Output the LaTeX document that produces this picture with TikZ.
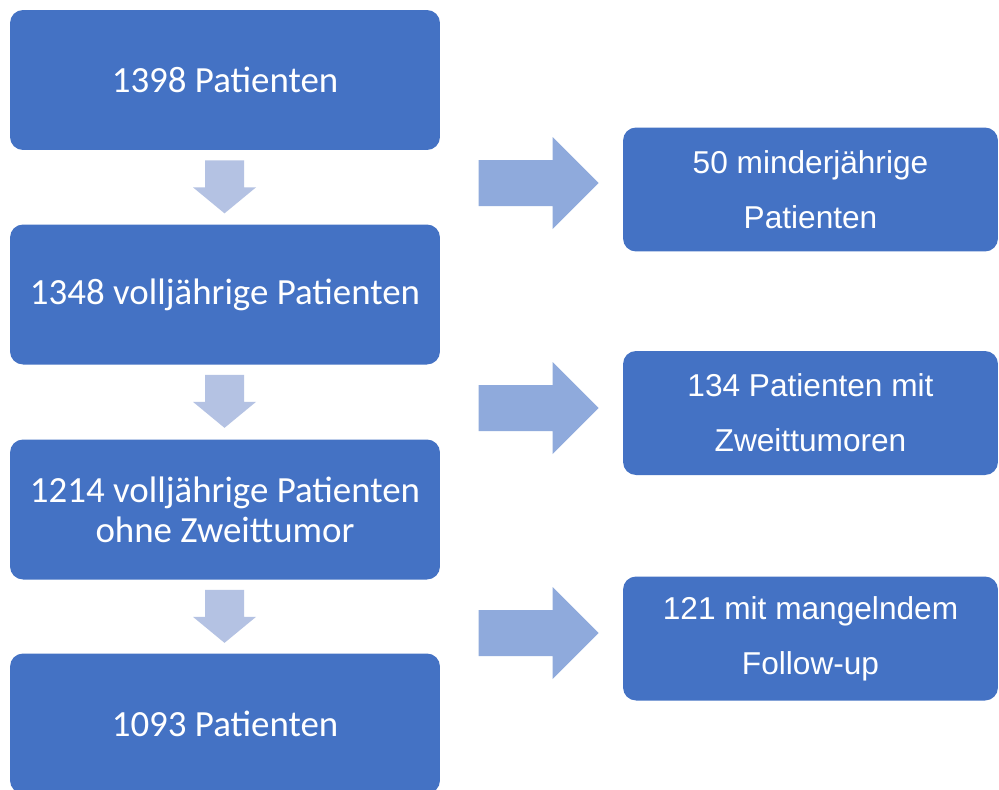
\documentclass[tikz,border=0pt]{standalone}
\usepackage{fontspec}
\setmainfont{Carlito}
\newfontfamily\sideFont{Liberation Sans}
\usetikzlibrary{positioning}

\definecolor{boxBlue}{HTML}{4472C4}
\definecolor{downArrowBlue}{HTML}{B4C2E3}
\definecolor{sideArrowBlue}{HTML}{8FAADC}

\def\downShaftWidth{39}
\def\downShaftLength{27}
\def\downHeadExtend{12}
\def\downHeadLength{26}
\def\sideShaftWidth{46}
\def\sideShaftLength{74}
\def\sideHeadExtend{23}
\def\sideHeadLength{46}

\tikzset{
    flowbox/.style = {
        fill = boxBlue, draw = none, rounded corners = 0.26cm,
        text = white, align = center, inner sep = 0pt,
        minimum width = 8.6cm, minimum height = 2.8cm,
        font = \fontsize{21}{22.7}\selectfont
    },
    sidebox/.style = {
        fill = boxBlue, draw = none, rounded corners = 0.26cm,
        text = white, align = center, inner sep = 0pt,
        minimum width = 7.5cm, minimum height = 2.48cm,
        font = \sideFont\fontsize{18}{31.2}\selectfont
    }
}

\begin{document}
\begin{tikzpicture}[x = 0.02cm, y = -0.02cm]
            \clip (0,0) rectangle (999,789);
            \fill [white] (0,0) rectangle (999,789);
            %% main column
            \node [flowbox] (total) at (225,80) {1398 Patienten};
            \node [flowbox] (adults) at (225,294.5) {1348 volljährige Patienten};
            \node [flowbox] (noSecond) at (225,509.5)
            {1214 volljährige Patienten\\ohne Zweittumor};
            \node [flowbox] (final) at (225,723.5) {1093 Patienten};
            %% excluded
            \node [sidebox] (minors) at (810.5,189.5)
            {50 minderjährige\\Patienten};
            \node [sidebox] (secondTumor) at (810.5,413)
            {134 Patienten mit\\Zweittumoren};
            \node [sidebox] (noFollowUp) at (810.5,638.5)
            {121 mit mangelndem\\Follow-up};
            %% down arrows
            \fill [downArrowBlue]
            (total.south) ++(-20,10)
            -- ++(\downShaftWidth,0)
            -- ++(0,\downShaftLength)
            -- ++(\downHeadExtend,0)
            -- ++({-\downHeadExtend-\downShaftWidth/2},\downHeadLength)
            -- ++({-\downHeadExtend-\downShaftWidth/2},-\downHeadLength)
            -- ++(\downHeadExtend,0)
            -- cycle
            (adults.south) ++(-20,10)
            -- ++(\downShaftWidth,0)
            -- ++(0,\downShaftLength)
            -- ++(\downHeadExtend,0)
            -- ++({-\downHeadExtend-\downShaftWidth/2},\downHeadLength)
            -- ++({-\downHeadExtend-\downShaftWidth/2},-\downHeadLength)
            -- ++(\downHeadExtend,0)
            -- cycle
            (noSecond.south) ++(-20,10)
            -- ++(\downShaftWidth,0)
            -- ++(0,\downShaftLength)
            -- ++(\downHeadExtend,0)
            -- ++({-\downHeadExtend-\downShaftWidth/2},\downHeadLength)
            -- ++({-\downHeadExtend-\downShaftWidth/2},-\downHeadLength)
            -- ++(\downHeadExtend,0)
            -- cycle
            ;
            %% side arrows
            \fill [sideArrowBlue]
            (minors.west) ++(-144,-29.5)
            -- ++(\sideShaftLength,0)
            -- ++(0,-\sideHeadExtend)
            -- ++(\sideHeadLength,{\sideHeadExtend+\sideShaftWidth/2})
            -- ++(-\sideHeadLength,{\sideHeadExtend+\sideShaftWidth/2})
            -- ++(0,-\sideHeadExtend)
            -- ++(-\sideShaftLength,0)
            -- cycle
            (secondTumor.west) ++(-144,-28)
            -- ++(\sideShaftLength,0)
            -- ++(0,-\sideHeadExtend)
            -- ++(\sideHeadLength,{\sideHeadExtend+\sideShaftWidth/2})
            -- ++(-\sideHeadLength,{\sideHeadExtend+\sideShaftWidth/2})
            -- ++(0,-\sideHeadExtend)
            -- ++(-\sideShaftLength,0)
            -- cycle
            (noFollowUp.west) ++(-144,-28.5)
            -- ++(\sideShaftLength,0)
            -- ++(0,-\sideHeadExtend)
            -- ++(\sideHeadLength,{\sideHeadExtend+\sideShaftWidth/2})
            -- ++(-\sideHeadLength,{\sideHeadExtend+\sideShaftWidth/2})
            -- ++(0,-\sideHeadExtend)
            -- ++(-\sideShaftLength,0)
            -- cycle
            ;
\end{tikzpicture}
\end{document}
